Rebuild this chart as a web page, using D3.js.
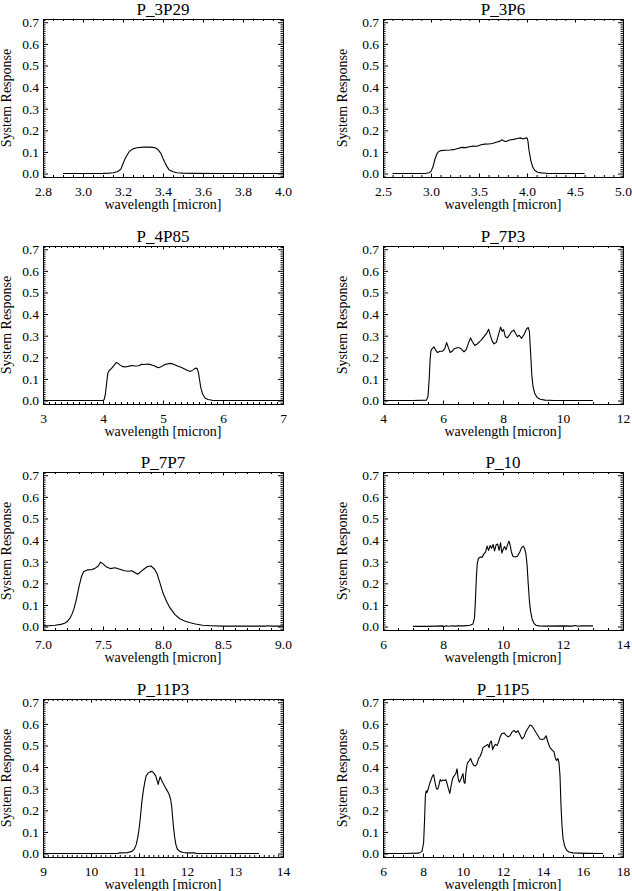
<!DOCTYPE html>
<html><head><meta charset="utf-8">
<script src="https://cdn.jsdelivr.net/npm/d3@7"></script>
<style>
body{margin:0;background:#fff}
svg{display:block}
svg text{font-family:'Liberation Serif','Times New Roman',Times,serif !important;fill:#000}
</style>
</head><body>
<svg id="chart" width="632" height="891"></svg>
<script>
// ---------- data (wavelength [micron], system response) ----------
const P_3P29 = [[2.90,0],[3.00,0],[3.10,0.001],[3.13,0.002],[3.15,0.004],[3.17,0.008],[3.18,0.013],[3.19,0.022],[3.20,0.045],[3.21,0.068],[3.22,0.085],[3.23,0.100],[3.24,0.108],[3.25,0.114],[3.27,0.119],[3.29,0.121],[3.31,0.123],[3.33,0.122],[3.35,0.121],[3.36,0.119],[3.37,0.115],[3.38,0.105],[3.39,0.092],[3.40,0.070],[3.41,0.050],[3.42,0.032],[3.43,0.018],[3.45,0.008],[3.47,0.004],[3.50,0.002],[3.55,0.001],[3.70,0],[4.00,0]];

const P_3P6 = [[2.60,0],[2.80,0],[2.95,0.001],[2.98,0.004],[3.00,0.010],[3.02,0.030],[3.04,0.065],[3.06,0.090],[3.08,0.102],[3.10,0.106],[3.15,0.108],[3.20,0.109],[3.25,0.112],[3.28,0.116],[3.32,0.121],[3.36,0.120],[3.40,0.124],[3.44,0.127],[3.48,0.126],[3.52,0.133],[3.56,0.136],[3.60,0.137],[3.64,0.139],[3.68,0.145],[3.72,0.150],[3.74,0.156],[3.76,0.150],[3.78,0.148],[3.82,0.155],[3.86,0.158],[3.90,0.162],[3.93,0.165],[3.96,0.160],[3.98,0.163],[4.00,0.165],[4.01,0.150],[4.02,0.110],[4.04,0.060],[4.06,0.030],[4.08,0.015],[4.11,0.006],[4.15,0.003],[4.20,0.001],[4.40,0],[4.60,0]];

const P_4P85 = [[3.0,0],[3.5,0],[4.0,0],[4.02,0.005],[4.04,0.030],[4.06,0.080],[4.08,0.125],[4.10,0.138],[4.13,0.145],[4.16,0.155],[4.19,0.165],[4.22,0.176],[4.25,0.172],[4.28,0.165],[4.32,0.158],[4.36,0.155],[4.42,0.158],[4.48,0.162],[4.54,0.160],[4.60,0.161],[4.64,0.168],[4.68,0.167],[4.74,0.169],[4.80,0.166],[4.86,0.160],[4.92,0.152],[4.96,0.155],[5.02,0.165],[5.08,0.170],[5.13,0.172],[5.18,0.168],[5.24,0.160],[5.30,0.154],[5.36,0.146],[5.42,0.138],[5.46,0.135],[5.50,0.142],[5.54,0.150],[5.57,0.148],[5.59,0.130],[5.61,0.095],[5.63,0.060],[5.66,0.030],[5.70,0.012],[5.75,0.005],[5.82,0.001],[6.0,0],[6.5,0],[7.0,0]];

const P_7P3 = [[4.0,0],[5.0,0],[5.45,0.002],[5.50,0.020],[5.54,0.100],[5.57,0.190],[5.60,0.232],[5.64,0.240],[5.70,0.248],[5.76,0.232],[5.82,0.222],[5.90,0.228],[5.98,0.228],[6.06,0.240],[6.12,0.268],[6.18,0.245],[6.24,0.222],[6.30,0.228],[6.38,0.240],[6.46,0.244],[6.54,0.244],[6.62,0.238],[6.70,0.225],[6.78,0.238],[6.86,0.270],[6.92,0.290],[6.98,0.272],[7.06,0.255],[7.14,0.262],[7.22,0.272],[7.30,0.284],[7.38,0.298],[7.46,0.312],[7.52,0.330],[7.58,0.300],[7.64,0.275],[7.70,0.262],[7.78,0.270],[7.86,0.310],[7.92,0.340],[7.97,0.320],[8.02,0.328],[8.08,0.295],[8.14,0.290],[8.20,0.300],[8.28,0.318],[8.36,0.326],[8.42,0.310],[8.48,0.296],[8.54,0.302],[8.62,0.288],[8.70,0.305],[8.78,0.330],[8.84,0.338],[8.88,0.320],[8.92,0.220],[8.96,0.120],[9.00,0.065],[9.06,0.032],[9.14,0.014],[9.24,0.006],[9.40,0.002],[9.70,0],[10.5,0],[11.0,0]];

const P_7P7 = [[7.00,0.003],[7.05,0.004],[7.10,0.006],[7.15,0.010],[7.18,0.015],[7.20,0.022],[7.22,0.035],[7.24,0.055],[7.26,0.085],[7.28,0.130],[7.30,0.185],[7.32,0.230],[7.34,0.255],[7.37,0.262],[7.40,0.263],[7.43,0.268],[7.46,0.280],[7.48,0.298],[7.50,0.290],[7.53,0.275],[7.56,0.268],[7.60,0.272],[7.64,0.265],[7.68,0.258],[7.71,0.256],[7.74,0.258],[7.77,0.248],[7.79,0.242],[7.81,0.252],[7.84,0.265],[7.87,0.278],[7.90,0.280],[7.93,0.265],[7.95,0.245],[7.97,0.210],[8.00,0.155],[8.03,0.116],[8.06,0.085],[8.10,0.055],[8.14,0.036],[8.18,0.026],[8.22,0.019],[8.27,0.012],[8.33,0.006],[8.40,0.004],[8.50,0.002],[8.70,0.002],[8.85,0.002],[8.88,0.004],[8.90,0.002],[9.00,0.002]];

const P_10 = [[7.0,0.001],[7.5,0.001],[8.0,0.003],[8.05,0.0],[8.1,0.004],[8.2,0.001],[8.3,0.004],[8.4,0.002],[8.5,0.003],[8.7,0.003],[8.9,0.006],[9.0,0.012],[9.05,0.040],[9.08,0.120],[9.11,0.220],[9.14,0.290],[9.18,0.315],[9.24,0.322],[9.30,0.320],[9.36,0.335],[9.42,0.345],[9.47,0.372],[9.52,0.352],[9.57,0.375],[9.62,0.362],[9.67,0.380],[9.72,0.350],[9.77,0.378],[9.82,0.382],[9.87,0.352],[9.92,0.388],[9.96,0.340],[10.00,0.355],[10.05,0.370],[10.10,0.355],[10.15,0.378],[10.20,0.395],[10.24,0.375],[10.28,0.345],[10.33,0.325],[10.40,0.322],[10.48,0.325],[10.56,0.345],[10.62,0.365],[10.68,0.372],[10.72,0.360],[10.76,0.340],[10.80,0.290],[10.84,0.200],[10.88,0.120],[10.92,0.070],[10.97,0.035],[11.03,0.015],[11.10,0.006],[11.20,0.003],[11.40,0.002],[12.0,0.003],[12.3,0.002],[12.4,0.005],[12.5,0.001],[12.6,0.003],[13.0,0.003]];

const P_11P3 = [[9.0,0],[10.0,0],[10.55,0],[10.6,0.003],[10.75,0.004],[10.85,0.010],[10.90,0.020],[10.94,0.040],[10.97,0.070],[11.00,0.110],[11.03,0.170],[11.06,0.240],[11.09,0.290],[11.12,0.330],[11.15,0.360],[11.19,0.372],[11.23,0.378],[11.27,0.380],[11.31,0.372],[11.35,0.358],[11.38,0.335],[11.40,0.320],[11.42,0.340],[11.44,0.355],[11.46,0.345],[11.48,0.335],[11.51,0.322],[11.55,0.305],[11.59,0.290],[11.63,0.272],[11.66,0.250],[11.68,0.220],[11.70,0.170],[11.72,0.120],[11.74,0.080],[11.77,0.040],[11.80,0.020],[11.85,0.010],[11.92,0.005],[12.0,0.003],[12.15,0.003],[12.2,0],[13.0,0],[13.5,0]];

const P_11P5 = [[6.0,0],[7.0,0],[7.8,0.002],[7.95,0.010],[8.03,0.050],[8.08,0.160],[8.12,0.270],[8.16,0.290],[8.20,0.282],[8.25,0.295],[8.32,0.320],[8.40,0.340],[8.47,0.358],[8.53,0.365],[8.60,0.330],[8.67,0.300],[8.74,0.298],[8.80,0.318],[8.86,0.342],[8.92,0.335],[9.00,0.340],[9.07,0.338],[9.14,0.342],[9.20,0.325],[9.27,0.300],[9.34,0.278],[9.40,0.310],[9.46,0.340],[9.52,0.355],[9.58,0.362],[9.64,0.370],[9.70,0.392],[9.76,0.345],[9.82,0.330],[9.88,0.340],[9.94,0.355],[10.00,0.370],[10.05,0.330],[10.10,0.325],[10.15,0.380],[10.22,0.420],[10.30,0.428],[10.38,0.440],[10.46,0.420],[10.54,0.408],[10.62,0.405],[10.70,0.415],[10.78,0.440],[10.86,0.450],[10.94,0.470],[11.00,0.490],[11.08,0.495],[11.16,0.500],[11.24,0.505],[11.30,0.490],[11.36,0.515],[11.42,0.520],[11.48,0.480],[11.54,0.495],[11.62,0.505],[11.70,0.500],[11.78,0.515],[11.86,0.540],[11.94,0.555],[12.05,0.558],[12.15,0.548],[12.25,0.540],[12.35,0.545],[12.45,0.562],[12.55,0.570],[12.65,0.560],[12.75,0.568],[12.85,0.550],[12.95,0.530],[13.05,0.540],[13.15,0.565],[13.25,0.580],[13.35,0.595],[13.45,0.590],[13.55,0.575],[13.65,0.560],[13.75,0.545],[13.85,0.530],[13.95,0.528],[14.05,0.530],[14.15,0.545],[14.25,0.515],[14.35,0.490],[14.45,0.480],[14.55,0.470],[14.62,0.440],[14.68,0.430],[14.74,0.440],[14.80,0.420],[14.85,0.360],[14.90,0.220],[14.95,0.130],[15.00,0.070],[15.08,0.035],[15.18,0.015],[15.30,0.007],[15.50,0.003],[15.80,0.002],[16.2,0.001],[17.0,0]];

// ---------- panel labels and axis ticks ----------
const titles = ["P_3P29","P_3P6","P_4P85","P_7P3","P_7P7","P_10","P_11P3","P_11P5"];
const series = [P_3P29, P_3P6, P_4P85, P_7P3, P_7P7, P_10, P_11P3, P_11P5];
const xDomains = [[2.8,4.0],[2.5,5.0],[3,7],[4,12],[7,9],[6,14],[9,14],[6,18]];
const xTickValues = [
  [2.8,3.0,3.2,3.4,3.6,3.8,4.0],
  [2.5,3.0,3.5,4.0,4.5,5.0],
  [3,4,5,6,7],
  [4,6,8,10,12],
  [7.0,7.5,8.0,8.5,9.0],
  [6,8,10,12,14],
  [9,10,11,12,13,14],
  [6,8,10,12,14,16,18]
];
const xTickDecimals = [1,1,0,0,1,0,0,0];
const xMinorDivisions = [4,5,10,4,5,4,10,4];
const yDomain = [-0.016, 0.715];
const yTickValues = [0.0,0.1,0.2,0.3,0.4,0.5,0.6,0.7];
const yMinorDivisions = 10;
const xAxisTitle = "wavelength [micron]";
const yAxisTitle = "System Response";

// ---------- layout ----------
const FONT = "'Liberation Serif','Times New Roman',Times,serif";
const colX = [43, 383];
const rowY = [19, 246, 472, 699];
const W = 240, H = 158;
const yTitleOffset = [32.5, 36];

const svg = d3.select("#chart");

function minorValues(majors, divisions, domain) {
  const out = [];
  const step = (majors[1] - majors[0]) / divisions;
  const start = majors[0] - step * divisions;
  const end = majors[majors.length - 1] + step * divisions;
  for (let v = start; v <= end + 1e-9; v += step) {
    const r = Math.round(v / step) * step;
    if (r < domain[0] - 1e-9 || r > domain[1] + 1e-9) continue;
    if (majors.some(m => Math.abs(m - r) < step * 0.01)) continue;
    out.push(r);
  }
  return out;
}

function styleAxis(sel, fontSize) {
  sel.select(".domain").remove();
  sel.attr("font-family", FONT).attr("font-size", fontSize);
  sel.selectAll("line").attr("stroke", "#000").attr("stroke-width", 1);
  sel.selectAll("text")
    .attr("font-family", FONT)
    .attr("font-size", fontSize)
    .attr("fill", "#000");
}

titles.forEach((title, i) => {
  const col = i % 2, row = Math.floor(i / 2);
  const g = svg.append("g").attr("transform", `translate(${colX[col]},${rowY[row]})`)
    .attr("font-family", FONT);
  const x = d3.scaleLinear().domain(xDomains[i]).range([0, W]);
  const y = d3.scaleLinear().domain(yDomain).range([H, 0]);

  const xMinor = minorValues(xTickValues[i], xMinorDivisions[i], xDomains[i]);
  const yMinor = minorValues(yTickValues, yMinorDivisions, yDomain);
  const xFmt = d3.format("." + xTickDecimals[i] + "f");

  // bottom axis (labels)
  g.append("g").attr("transform", `translate(0,${H})`)
    .call(d3.axisBottom(x).tickValues(xTickValues[i]).tickFormat(xFmt)
      .tickSizeInner(-3.5).tickSizeOuter(0).tickPadding(9))
    .call(s => styleAxis(s, 13.5));
  g.append("g").attr("transform", `translate(0,${H})`)
    .call(d3.axisBottom(x).tickValues(xMinor).tickFormat("")
      .tickSizeInner(-2).tickSizeOuter(0))
    .call(s => styleAxis(s, 13.5));
  // top axis
  g.append("g")
    .call(d3.axisTop(x).tickValues(xTickValues[i]).tickFormat("")
      .tickSizeInner(-3.5).tickSizeOuter(0))
    .call(s => styleAxis(s, 13.5));
  g.append("g")
    .call(d3.axisTop(x).tickValues(xMinor).tickFormat("")
      .tickSizeInner(-2).tickSizeOuter(0))
    .call(s => styleAxis(s, 13.5));
  // left axis (labels)
  g.append("g")
    .call(d3.axisLeft(y).tickValues(yTickValues).tickFormat(d3.format(".1f"))
      .tickSizeInner(-5).tickSizeOuter(0).tickPadding(4))
    .call(s => styleAxis(s, 13.5));
  g.append("g")
    .call(d3.axisLeft(y).tickValues(yMinor).tickFormat("")
      .tickSizeInner(-2.5).tickSizeOuter(0))
    .call(s => styleAxis(s, 13.5));
  // right axis
  g.append("g").attr("transform", `translate(${W},0)`)
    .call(d3.axisRight(y).tickValues(yTickValues).tickFormat("")
      .tickSizeInner(-5).tickSizeOuter(0))
    .call(s => styleAxis(s, 13.5));
  g.append("g").attr("transform", `translate(${W},0)`)
    .call(d3.axisRight(y).tickValues(yMinor).tickFormat("")
      .tickSizeInner(-2.5).tickSizeOuter(0))
    .call(s => styleAxis(s, 13.5));

  // frame
  g.append("rect").attr("x", 0.5).attr("y", 0.5).attr("width", W).attr("height", H)
    .attr("fill", "none").attr("stroke", "#000").attr("stroke-width", 1);

  // curve
  const line = d3.line().x(d => x(d[0])).y(d => y(d[1]));
  g.append("path").datum(series[i]).attr("d", line)
    .attr("fill", "none").attr("stroke", "#000").attr("stroke-width", 1.1)
    .attr("stroke-linejoin", "round");

  // titles
  g.append("text").attr("x", W / 2).attr("y", -4).attr("text-anchor", "middle")
    .attr("font-family", FONT).attr("font-size", 17).text(title);
  g.append("text").attr("x", W / 2).attr("y", H + 32).attr("text-anchor", "middle")
    .attr("font-family", FONT).attr("font-size", 14).text(xAxisTitle);
  g.append("text")
    .attr("transform", `translate(${-yTitleOffset[col]},${H / 2}) rotate(-90)`)
    .attr("text-anchor", "middle").attr("font-family", FONT).attr("font-size", 14)
    .text(yAxisTitle);
});
</script>
</body></html>
